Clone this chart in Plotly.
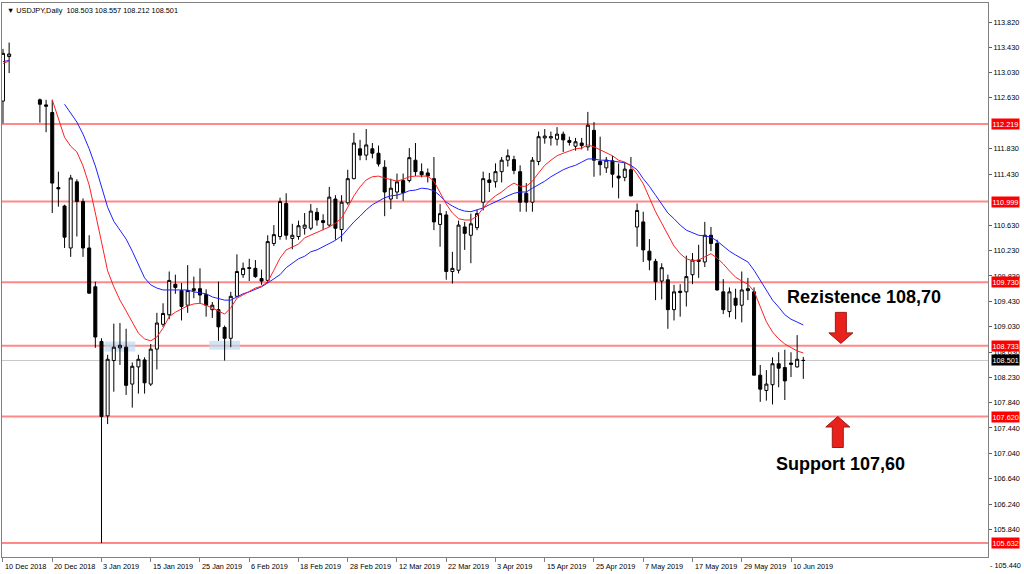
import pandas as pd
import plotly.graph_objects as go

# ---------------- data ----------------
trade_dates = [d.strftime('%Y-%m-%d') for d in pd.bdate_range('2018-12-10', '2019-06-12')
               if d.strftime('%m-%d') not in ('12-25', '01-01')]

N = None
opens = [112.58, 113.28, N, N, N, N, 112.60, 112.52, 112.40, 111.22,
         110.93, 110.27, 111.31, 111.00, 110.27, 109.66, 108.80, 107.63, 108.50, 108.70,
         108.71, 108.13, 108.40, 108.51, 108.13, 108.68, 109.07, 109.22, 109.70, 109.60,
         109.37, 109.60, 109.63, 109.54, 109.30, 109.30, 109.02, 108.85, 109.51, 109.85,
         109.96, 109.95, 109.79, 109.76, 110.34, 110.45, 110.97, 110.42, 110.45, 110.58,
         110.58, 110.83, 110.70, 110.63, 111.04, 110.56, 110.98, 111.36, 111.83, 111.73,
         111.83, 111.76, 111.54, 111.04, 111.15, 111.33, 111.33, 111.65, 111.47, 111.45,
         111.36, 110.64, 110.79, 109.90, 109.92, 110.60, 110.47, 110.59, 110.99, 111.34,
         111.31, 111.47, 111.65, 111.66, 111.47, 111.13, 110.99, 111.63, 112.00, 112.00,
         111.98, 112.06, 111.96, 111.87, 111.92, 111.86, 112.12, 111.63, 111.53, 111.64,
         111.40, 111.38, 111.50, 110.60, 110.68, 110.22, 110.06, 109.75, 109.77, 109.30,
         109.59, 109.58, 109.85, 110.08, 110.05, 110.47, 110.34, 109.58, 109.27, 109.48,
         109.37, 109.60, 109.58, 108.27, 108.03, 108.12, 108.45, 108.39, 108.46, 108.40,
         108.503]
highs = [113.40, 113.50, N, N, N, N, 112.62, 112.60, 112.60, 111.47,
         110.95, 111.42, 111.35, 111.05, 110.47, 109.74, 108.85, 108.59, 109.08, 109.09,
         109.00, 108.47, 108.59, 108.55, 108.76, 109.25, 109.40, 109.90, 109.85, 109.72,
         110.00, 109.82, 109.95, 109.62, 109.42, 109.74, 109.05, 109.58, 110.17, 110.04,
         110.10, 110.08, 109.93, 110.47, 110.63, 111.06, 111.13, 110.65, 110.70, 110.82,
         110.96, 110.90, 110.80, 111.23, 111.10, 111.10, 111.50, 112.08, 111.97, 112.14,
         111.92, 111.88, 111.65, 111.36, 111.44, 111.44, 111.84, 111.92, 111.60, 111.52,
         111.70, 110.96, 110.85, 110.21, 110.70, 110.68, 110.81, 110.87, 111.47, 111.45,
         111.60, 111.70, 111.82, 111.72, 111.57, 111.29, 111.70, 112.10, 112.14, 112.10,
         112.17, 112.10, 112.02, 112.00, 112.00, 112.41, 112.25, 112.02, 111.70, 111.72,
         111.60, 111.62, 111.70, 110.97, 110.84, 110.41, 110.10, 110.03, 109.85, 109.69,
         109.70, 110.15, 110.19, 110.32, 110.68, 110.60, 110.40, 109.78, 109.65, 109.63,
         109.90, 109.80, 109.65, 108.43, 108.35, 108.55, 108.63, 108.67, 108.63, 108.90,
         108.557]
lows = [112.23, 113.02, N, N, N, N, 112.24, 112.09, 110.82, 110.92,
        110.27, 110.13, 110.45, 110.13, 109.55, 108.70, 105.63, 107.50, 108.01, 108.43,
        107.96, 107.76, 107.98, 107.98, 108.10, 108.36, 109.03, 109.15, 109.55, 109.13,
        109.25, 109.48, 109.40, 109.19, 109.17, 108.81, 108.50, 108.71, 109.50, 109.80,
        109.75, 109.80, 109.69, 109.72, 110.30, 110.40, 110.40, 110.25, 110.40, 110.48,
        110.55, 110.62, 110.55, 110.60, 110.40, 110.37, 110.95, 111.35, 111.65, 111.65,
        111.68, 111.55, 110.77, 110.88, 111.04, 111.01, 111.30, 111.40, 111.38, 111.30,
        110.55, 110.29, 109.77, 109.71, 109.87, 110.24, 110.03, 110.55, 110.86, 111.15,
        111.22, 111.30, 111.55, 111.43, 110.84, 110.84, 110.84, 111.57, 111.91, 111.88,
        111.88, 111.78, 111.88, 111.80, 111.82, 111.80, 111.39, 111.41, 111.45, 111.22,
        111.05, 111.32, 111.08, 110.29, 110.05, 109.92, 109.45, 109.46, 109.00, 109.13,
        109.19, 109.35, 109.70, 109.80, 109.97, 110.22, 109.60, 109.23, 109.18, 109.15,
        109.10, 109.45, 108.27, 107.85, 107.87, 107.81, 108.08, 107.88, 108.24, 108.39,
        108.212]
closes = [113.33, 113.32, N, N, N, N, 112.53, 112.50, 111.29, 111.20,
          110.44, 111.37, 111.00, 110.27, 109.56, 108.87, 107.62, 108.52, 108.71, 108.74,
          108.11, 108.41, 108.52, 108.15, 108.68, 109.09, 109.24, 109.76, 109.65, 109.35,
          109.60, 109.63, 109.53, 109.37, 109.37, 109.03, 108.85, 109.51, 109.90, 109.95,
          109.95, 109.82, 109.75, 110.37, 110.48, 111.00, 110.47, 110.47, 110.62, 110.63,
          110.85, 110.71, 110.67, 111.07, 110.58, 110.99, 111.36, 111.92, 111.73, 111.89,
          111.76, 111.59, 111.15, 111.21, 111.31, 111.14, 111.69, 111.47, 111.42, 111.40,
          110.68, 110.81, 109.90, 109.95, 110.63, 110.50, 110.65, 110.81, 111.36, 111.30,
          111.47, 111.65, 111.72, 111.49, 110.99, 110.99, 111.65, 112.02, 112.03, 112.02,
          112.06, 111.97, 111.93, 111.94, 111.88, 112.20, 111.65, 111.58, 111.65, 111.43,
          111.37, 111.51, 111.09, 110.86, 110.24, 110.08, 109.74, 109.96, 109.30, 109.58,
          109.57, 109.82, 110.08, 110.06, 110.47, 110.34, 109.61, 109.30, 109.58, 109.37,
          109.61, 109.63, 108.27, 108.05, 108.13, 108.45, 108.38, 108.18, 108.44, 108.52,
          108.501]

ma_fast = [113.17, 113.21, N, N, N, N, N, N, 112.60, 112.31,
           112.01, 111.87, 111.78, 111.56, 111.26, 110.82, 110.35, 109.91, 109.66, 109.45,
           109.28, 109.11, 108.93, 108.84, 108.81, 108.87, 109.01, 109.19, 109.26, 109.31,
           109.36, 109.39, 109.40, 109.37, 109.33, 109.28, 109.23, 109.33, 109.48, 109.53,
           109.58, 109.64, 109.67, 109.74, 109.92, 110.11, 110.24, 110.29, 110.33, 110.43,
           110.47, 110.52, 110.55, 110.60, 110.66, 110.74, 110.91, 111.09, 111.23, 111.34,
           111.39, 111.40, 111.37, 111.34, 111.32, 111.35, 111.39, 111.40, 111.40, 111.40,
           111.32, 111.15, 110.96, 110.82, 110.73, 110.71, 110.71, 110.77, 110.90, 111.01,
           111.09, 111.15, 111.23, 111.29, 111.24, 111.24, 111.32, 111.45, 111.57, 111.65,
           111.72, 111.76, 111.80, 111.83, 111.84, 111.89, 111.86, 111.81, 111.76, 111.72,
           111.65, 111.62, 111.56, 111.43, 111.28, 111.07, 110.84, 110.66, 110.47, 110.30,
           110.18, 110.10, 110.07, 110.08, 110.13, 110.18, 110.11, 110.02, 109.91, 109.81,
           109.75, 109.70, 109.59, 109.34, 109.11, 108.95, 108.84, 108.76, 108.70, 108.65,
           108.62]
ma_slow = [113.20, 113.22, N, N, N, N, N, N, N, N,
           112.53, 112.39, 112.25, 112.06, 111.83, 111.56, 111.24, 110.91, 110.69, 110.55,
           110.41, 110.22, 110.02, 109.80, 109.69, 109.64, 109.61, 109.61, 109.62, 109.62,
           109.61, 109.58, 109.56, 109.55, 109.50, 109.47, 109.45, 109.45, 109.50, 109.55,
           109.58, 109.62, 109.66, 109.72, 109.78, 109.85, 109.96, 110.03, 110.10, 110.14,
           110.21, 110.24, 110.29, 110.33, 110.39, 110.46, 110.57, 110.68, 110.77, 110.87,
           110.95, 111.01, 111.06, 111.09, 111.10, 111.13, 111.17, 111.18, 111.21, 111.20,
           111.17, 111.09, 110.99, 110.93, 110.88, 110.85, 110.84, 110.87, 110.90, 110.95,
           110.99, 111.04, 111.09, 111.13, 111.15, 111.15, 111.21, 111.26, 111.32, 111.39,
           111.45, 111.50, 111.54, 111.57, 111.62, 111.67, 111.67, 111.65, 111.65, 111.64,
           111.62, 111.61, 111.57, 111.50, 111.36, 111.24, 111.10, 110.95, 110.82, 110.73,
           110.63, 110.55, 110.51, 110.47, 110.46, 110.44, 110.38, 110.30, 110.22, 110.16,
           110.11, 110.05, 109.92, 109.77, 109.61, 109.45, 109.34, 109.22, 109.15, 109.11,
           109.06]

levels = [112.219, 110.999, 109.730, 108.733, 107.620, 105.632]
last_price = 108.501
ytick_vals = [113.82, 113.43, 113.03, 112.63, 111.83, 111.43, 110.63, 110.23, 109.83,
              109.43, 109.03, 108.63, 108.23, 107.84, 107.44, 107.04, 106.64, 106.24, 105.84]
low_label = 105.44
xtick_dates = ['2018-12-10', '2018-12-20', '2019-01-03', '2019-01-15', '2019-01-25',
               '2019-02-06', '2019-02-18', '2019-02-28', '2019-03-12', '2019-03-22',
               '2019-04-03', '2019-04-15', '2019-04-25', '2019-05-07', '2019-05-17',
               '2019-05-29', '2019-06-10']
# light-blue support zones: (first bar, last bar, low, high)
zone_start = ['2019-01-04', '2019-01-29']
zone_end = ['2019-01-10', '2019-02-04']
zone_low = [108.64, 108.67]
zone_high = [108.80, 108.81]

title_text = '\u25BC USDJPY,Daily  108.503 108.557 108.212 108.501'

# ---------------- figure ----------------
W, H = 1024, 574
ML, MR, MT, MB = 2, 36, 3, 17
XR = [-0.16, 160.0]
YR = [105.411, 114.122]
px_x = (W - ML - MR) / (XR[1] - XR[0])
px_y = (H - MT - MB) / (YR[1] - YR[0])

idx = list(range(len(trade_dates)))
pos = {d: i for i, d in enumerate(trade_dates)}

fig = go.Figure()
fig.add_trace(go.Candlestick(
    x=idx, open=opens, high=highs, low=lows, close=closes,
    increasing=dict(line=dict(color='black', width=1), fillcolor='white'),
    decreasing=dict(line=dict(color='black', width=1), fillcolor='black'),
    whiskerwidth=0, showlegend=False, hoverinfo='skip'))
fig.add_trace(go.Scatter(x=idx, y=ma_slow, mode='lines', line=dict(color='#2020FF', width=1),
                         connectgaps=False, showlegend=False, hoverinfo='skip'))
fig.add_trace(go.Scatter(x=idx, y=ma_fast, mode='lines', line=dict(color='#FF2020', width=1),
                         connectgaps=False, showlegend=False, hoverinfo='skip'))

shapes = []
for s, e, lo, hi in zip(zone_start, zone_end, zone_low, zone_high):
    shapes.append(dict(type='rect', xref='x', yref='y', x0=pos[s] - 0.5, x1=pos[e] + 0.5,
                       y0=lo, y1=hi, fillcolor='rgba(190,218,242,0.7)', line=dict(width=0),
                       layer='below'))
for lv in levels:
    shapes.append(dict(type='line', xref='paper', yref='y', x0=0, x1=1, y0=lv, y1=lv,
                       line=dict(color='rgba(255,40,40,0.55)', width=2), layer='below'))
shapes.append(dict(type='line', xref='paper', yref='y', x0=0, x1=1, y0=last_price, y1=last_price,
                   line=dict(color='#C8C8C8', width=1), layer='below'))


def arrow_path(cx, tip, direction):
    # block arrow; sizes in pixels converted to axis units
    hw_head, hw_shaft, head_len, total = 12, 5.5, 10.5, 31
    pts = [(0, 0), (hw_head, head_len), (hw_shaft, head_len), (hw_shaft, total),
           (-hw_shaft, total), (-hw_shaft, head_len), (-hw_head, head_len)]
    sgn = 1 if direction == 'down' else -1
    coords = [(cx + dx / px_x, tip + sgn * dy / px_y) for dx, dy in pts]
    return 'M ' + ' L '.join(f'{x:.4f},{y:.4f}' for x, y in coords) + ' Z'


shapes.append(dict(type='path', xref='x', yref='y', path=arrow_path(136.1, 108.77, 'down'),
                   fillcolor='#E8211C', line=dict(color='#9E1A14', width=1)))
shapes.append(dict(type='path', xref='x', yref='y', path=arrow_path(135.6, 107.62, 'up'),
                   fillcolor='#E8211C', line=dict(color='#9E1A14', width=1)))

ann = []
FONT = 'Liberation Sans, Arial, sans-serif'
for d in xtick_dates:
    dt = pd.Timestamp(d)
    ann.append(dict(x=pos[d], y=0, xref='x', yref='paper', xanchor='left', yanchor='top',
                    xshift=0, yshift=-3, showarrow=False,
                    text=f'{dt.day} {dt.strftime("%b %Y")}',
                    font=dict(family=FONT, size=7.3, color='#000000')))
for lv in levels:
    ann.append(dict(x=1, y=lv, xref='paper', yref='y', xanchor='left', yanchor='middle',
                    xshift=3, showarrow=False, text=f'{lv:.3f}', bgcolor='#FF0000',
                    borderpad=0.5, font=dict(family=FONT, size=7.3, color='white')))
ann.append(dict(x=1, y=last_price, xref='paper', yref='y', xanchor='left', yanchor='middle',
                xshift=3, showarrow=False, text=f'{last_price:.3f}', bgcolor='#000000',
                borderpad=0.5, font=dict(family=FONT, size=7.3, color='white')))
ann.append(dict(x=1, y=low_label, xref='paper', yref='y', xanchor='left', yanchor='middle',
                xshift=0, yshift=-10, showarrow=False, text=f'- {low_label:.3f}',
                font=dict(family=FONT, size=7.3, color='#000000')))
ann.append(dict(x=0, y=1, xref='paper', yref='paper', xanchor='left', yanchor='top',
                xshift=3, yshift=-1, showarrow=False, text=title_text,
                font=dict(family=FONT, size=7.3, color='#000000')))
ann.append(dict(x=127.0, y=109.50, xref='x', yref='y', xanchor='left', yanchor='middle',
                showarrow=False, text='<b>Rezistence 108,70</b>',
                font=dict(family=FONT, size=18, color='#000000')))
ann.append(dict(x=125.2, y=106.87, xref='x', yref='y', xanchor='left', yanchor='middle',
                showarrow=False, text='<b>Support 107,60</b>',
                font=dict(family=FONT, size=18, color='#000000')))

fig.update_layout(
    width=W, height=H, margin=dict(l=ML, r=MR, t=MT, b=MB),
    paper_bgcolor='white', plot_bgcolor='white', showlegend=False,
    shapes=shapes, annotations=ann,
    xaxis=dict(range=XR, showgrid=False, zeroline=False, rangeslider=dict(visible=False),
               tickvals=[pos[d] for d in xtick_dates], showticklabels=False,
               ticks='outside', ticklen=4, tickcolor='#808080',
               showline=True, mirror=True, linecolor='#808080', linewidth=1),
    yaxis=dict(range=YR, side='right', showgrid=False, zeroline=False,
               tickvals=ytick_vals, ticktext=[f'{v:.3f}' for v in ytick_vals],
               ticks='outside', ticklen=3, tickcolor='#606060',
               tickfont=dict(family=FONT, size=7.3, color='#000000'),
               showline=True, mirror=True, linecolor='#808080', linewidth=1),
)

fig.write_html('out.html', config={'displayModeBar': False},
               post_script="document.body.style.margin='0px';")
